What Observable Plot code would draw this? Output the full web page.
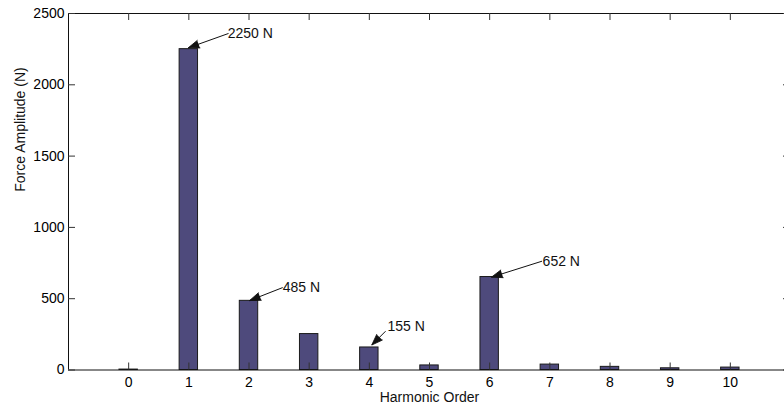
<!DOCTYPE html>
<html><head><meta charset="utf-8">
<script src="https://cdn.jsdelivr.net/npm/d3@7"></script>
<script src="https://cdn.jsdelivr.net/npm/@observablehq/plot@0.6"></script>
<style>html,body{margin:0;padding:0;background:#fff;overflow:hidden}</style>
</head><body><div id="chart"></div>
<script>
const harmonics = [0, 1, 2, 3, 4, 5, 6, 7, 8, 9, 10];
const amplitudes = [3, 2250, 485, 252, 158, 32, 652, 38, 22, 12, 17];
const xTicks = [0, 1, 2, 3, 4, 5, 6, 7, 8, 9, 10];
const yTicks = [0, 500, 1000, 1500, 2000, 2500];
const annLabels = ["2250 N", "485 N", "155 N", "652 N"];
const annTailX = [1.66, 2.56, 4.27, 6.87];
const annTailY = [2360, 578, 272, 763];
const annHeadX = [0.99, 2.01, 4.04, 6.03];
const annHeadY = [2259, 487, 175, 651];
const annTextX = [1.645, 2.56, 4.30, 6.88];
const annTextY = [2362, 580, 305, 762];

const W = 784, H = 409;
const mL = 68, mT = 13, mB = 39.5, xRight = 790;
const font = "'Liberation Sans', Arial, Helvetica, sans-serif";
const fs = 14;
const barHalf = 0.153;

const bars = harmonics.map((h, i) => ({h, v: amplitudes[i]}));
const ann = annLabels.map((t, i) => i);
const kx = (xRight - mL) / 12, ky = (H - mB - mT) / 2500;
const headRot = ann.map(i => Math.atan2((annHeadX[i] - annTailX[i]) * kx, (annHeadY[i] - annTailY[i]) * ky) * 180 / Math.PI);

const plot = Plot.plot({
  width: W, height: H,
  marginLeft: mL, marginTop: mT, marginBottom: mB, marginRight: 0,
  style: {fontFamily: font, fontSize: fs + "px", background: "#fff", color: "#000"},
  x: {domain: [-1, 11], range: [mL, xRight]},
  y: {domain: [0, 2500], range: [H - mB, mT]},
  marks: [
    Plot.rectY(bars, {x1: d => d.h - barHalf, x2: d => d.h + barHalf, y1: 0, y2: "v", fill: "#4e4a7c", stroke: "#1a1a1a", strokeWidth: 1}),
    // frame
    Plot.ruleX([-1, 11], {stroke: "#111", strokeWidth: 1}),
    Plot.ruleY([0, 2500], {stroke: "#111", strokeWidth: 1}),
    // inward ticks
    Plot.ruleX(xTicks, {x: d => d, y1: 0, y2: 0, insetBottom: 7, stroke: "#333"}),
    Plot.ruleX(xTicks, {x: d => d, y1: 2500, y2: 2500, insetTop: 7, stroke: "#333"}),
    Plot.ruleY(yTicks, {y: d => d, x1: -1, x2: -1, insetRight: -7, stroke: "#333"}),
    Plot.ruleY(yTicks, {y: d => d, x1: 11, x2: 11, insetLeft: -7, stroke: "#333"}),
    Plot.axisX(xTicks, {anchor: "bottom", tickSize: 0, tickPadding: 7.5, fontSize: fs, label: null, tickFormat: d => String(d)}),
    Plot.axisY(yTicks, {anchor: "left", tickSize: 0, tickPadding: 4, fontSize: fs, label: null, tickFormat: d => String(d)}),
    Plot.text(["Harmonic Order"], {frameAnchor: "bottom", dx: 3, dy: 32, fontSize: fs, fill: "#111"}),
    Plot.text(["Force Amplitude (N)"], {frameAnchor: "left", rotate: -90, dx: -48, fontSize: fs, fill: "#111"}),
    // annotations
    Plot.link(ann, {x1: i => annTailX[i], y1: i => annTailY[i], x2: i => annHeadX[i], y2: i => annHeadY[i], stroke: "#111", strokeWidth: 1}),
    Plot.vector(ann, {x: i => annHeadX[i], y: i => annHeadY[i], rotate: i => headRot[i], length: 11, r: 4, anchor: "end", shape: "spike", fill: "#111", stroke: "#111", strokeWidth: 0.8}),
    Plot.text(ann, {x: i => annTextX[i], y: i => annTextY[i], text: i => annLabels[i], textAnchor: "start", fontSize: fs, fill: "#111"})
  ]
});
document.getElementById("chart").appendChild(plot);
</script></body></html>
